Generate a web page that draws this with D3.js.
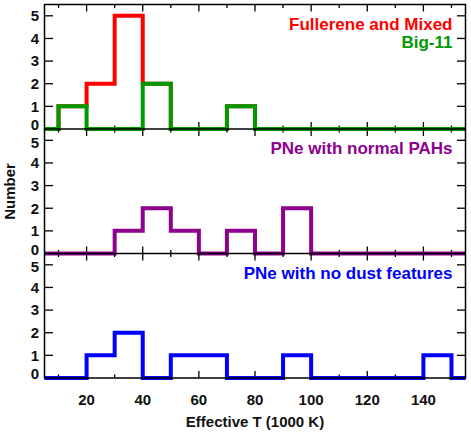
<!DOCTYPE html>
<html><head><meta charset="utf-8">
<script src="https://cdn.jsdelivr.net/npm/d3@7"></script>
<style>body{margin:0;background:#fff}svg{display:block}text{font-family:"Liberation Sans",Arial,Helvetica,sans-serif;font-weight:bold}</style>
</head><body><svg id="c" width="471" height="435"></svg>
<script>
// bin left edges (1000 K), bin width 10
const binEdges = [10,20,30,40,50,60,70,80,90,100,110,120,130,140,150];
const fullereneMixed = [1,2,5,2,0,0,1,0,0,0,0,0,0,0,0];
const big11          = [1,0,0,2,0,0,1,0,0,0,0,0,0,0,0];
const normalPAHs     = [0,0,1,2,1,0,1,0,2,0,0,0,0,0,0];
const noDust         = [0,1,2,0,1,1,0,0,1,0,0,0,0,1,0];
const xTickVals = [20,40,60,80,100,120,140];
const yTickVals = [0,1,2,3,4,5];
const panelLabels = [["Fullerene and Mixed","Big-11"],["PNe with normal PAHs"],["PNe with no dust features"]];
const xDomain = [5,155];
const yDomain = [0,5.5];

const svg = d3.select("#c");
const L = 44.5, R = 465.5, T = 4.5, B = 378;
const ph = (B - T) / 3;
const x = d3.scaleLinear().domain(xDomain).range([L, R]);

const panels = [
  {series:[{vals:fullereneMixed,color:"#ff0000"},{vals:big11,color:"#009a00"}], labels:[{t:panelLabels[0][0],c:"#ff0000"},{t:panelLabels[0][1],c:"#009a00"}]},
  {series:[{vals:normalPAHs,color:"#8e008e"}], labels:[{t:panelLabels[1][0],c:"#8e008e"}]},
  {series:[{vals:noDust,color:"#0000ff"}], labels:[{t:panelLabels[2][0],c:"#0000ff"}]}
];

function stepPoints(vals){
  const pts = [[xDomain[0],0]];
  binEdges.forEach((e,i)=>{
    const prev = i===0?0:vals[i-1];
    pts.push([e,prev]); pts.push([e,vals[i]]);
  });
  pts.push([xDomain[1],vals[vals.length-1]]);
  return pts;
}

const minorX = d3.range(10,151,10);

panels.forEach((p,pi)=>{
  const top = T + pi*ph, bot = top + ph;
  const y = d3.scaleLinear().domain(yDomain).range([bot, top]);
  const g = svg.append("g");
  // ticks
  const tk = g.append("g").attr("stroke","#000").attr("stroke-width",1.3);
  minorX.forEach(v=>{
    const len = (v%20===0)?7:3.5;
    tk.append("line").attr("x1",x(v)).attr("x2",x(v)).attr("y1",top).attr("y2",top+len);
    tk.append("line").attr("x1",x(v)).attr("x2",x(v)).attr("y1",bot).attr("y2",bot-len);
  });
  yTickVals.forEach(v=>{
    tk.append("line").attr("x1",L).attr("x2",L+8.5).attr("y1",y(v)).attr("y2",y(v));
    tk.append("line").attr("x1",R).attr("x2",R-8.5).attr("y1",y(v)).attr("y2",y(v));
  });
  // y labels
  yTickVals.forEach(v=>{
    let dy = 0;
    if (v===0) dy = -4;
    if (v===5 && pi>0) dy = 2;
    g.append("text").attr("x",39).attr("y",y(v)+dy).attr("dy","0.36em")
      .attr("text-anchor","end").attr("font-size",15).attr("fill","#111").text(v);
  });
  // data
  const line = d3.line().x(d=>x(d[0])).y(d=>y(d[1]));
  p.series.forEach(s=>{
    g.append("path").attr("d",line(stepPoints(s.vals))).attr("fill","none")
      .attr("stroke",s.color).attr("stroke-width",4).attr("stroke-linejoin","miter").attr("stroke-linecap","butt");
  });
  // labels
  p.labels.forEach((l,li)=>{
    g.append("text").attr("x",452.5).attr("y",top+25+li*18.5).attr("text-anchor","end")
      .attr("font-size",17).attr("fill",l.c).text(l.t);
  });
});

// frame lines
const fr = svg.append("g").attr("stroke","#000").attr("stroke-width",1.5).attr("fill","none");
fr.append("rect").attr("x",L).attr("y",T).attr("width",R-L).attr("height",B-T);
[1,2].forEach(i=>fr.append("line").attr("x1",L).attr("x2",R).attr("y1",T+i*ph).attr("y2",T+i*ph));
// redraw data over frame lines? frame drawn after, but data lines at zero should cover; re-raise paths
svg.selectAll("path").raise();

// x tick labels
xTickVals.forEach(v=>{
  svg.append("text").attr("x",x(v)).attr("y",405).attr("text-anchor","middle")
    .attr("font-size",15).attr("fill","#111").text(v);
});
svg.append("text").attr("x",(L+R)/2).attr("y",427).attr("text-anchor","middle")
  .attr("font-size",15).attr("fill","#111").text("Effective T (1000 K)");
svg.append("text").attr("transform","translate(15,191.5) rotate(-90)").attr("text-anchor","middle")
  .attr("font-size",15).attr("fill","#111").text("Number");
</script></body></html>
